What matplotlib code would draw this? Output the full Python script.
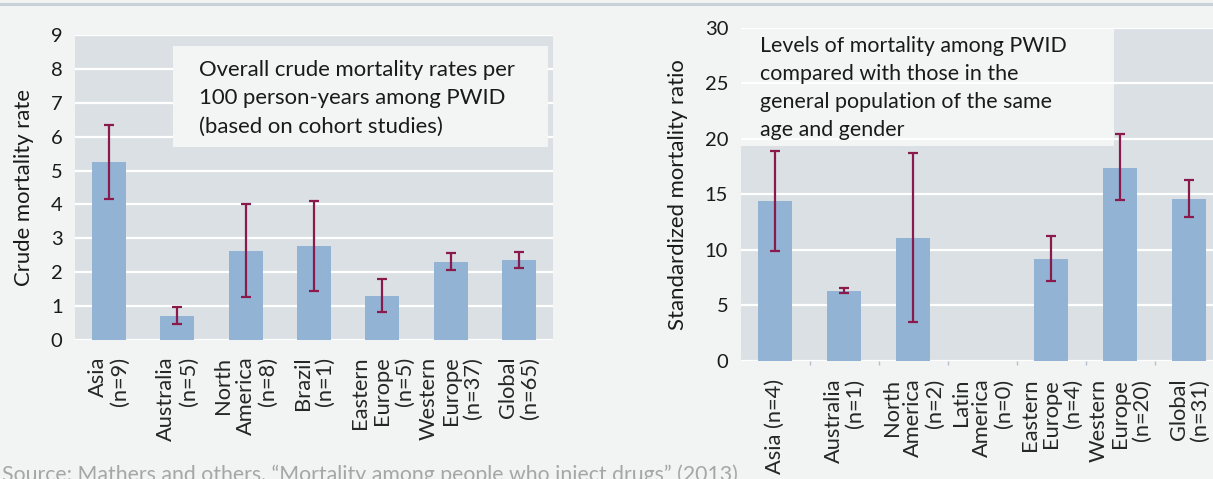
"""
Mortality among people who inject drugs: crude mortality rates and standardized mortality ratios.
"""

import matplotlib as mpl
mpl.use("Agg")
import matplotlib.pyplot as plt
from matplotlib import font_manager
from matplotlib.patches import Rectangle
import numpy as np

# left panel: crude mortality rate per 100 person-years
crude_labels = ["Asia\n(n=9)", "Australia\n(n=5)", "North\nAmerica\n(n=8)", "Brazil\n(n=1)",
                "Eastern\nEurope\n(n=5)", "Western\nEurope\n(n=37)", "Global\n(n=65)"]
crude_rate = [5.24, 0.71, 2.63, 2.76, 1.31, 2.30, 2.35]
crude_low = [4.15, 0.47, 1.26, 1.45, 0.82, 2.06, 2.13]
crude_high = [6.34, 0.96, 4.02, 4.09, 1.81, 2.57, 2.59]

# right panel: standardized mortality ratio (Latin America has no studies)
smr_labels = ["Asia (n=4)", "Australia\n(n=1)", "North\nAmerica\n(n=2)", "Latin\nAmerica\n(n=0)",
              "Eastern\nEurope\n(n=4)", "Western\nEurope\n(n=20)", "Global\n(n=31)"]
smr = [14.4, 6.3, 11.1, np.nan, 9.2, 17.4, 14.6]
smr_low = [9.9, 6.1, 3.5, np.nan, 7.15, 14.5, 12.95]
smr_high = [18.9, 6.55, 18.75, np.nan, 11.25, 20.4, 16.3]

crude_note = ["Overall crude mortality rates per", "100 person-years among PWID",
              "(based on cohort studies)"]
smr_note = ["Levels of mortality among PWID", "compared with those in the",
            "general population of the same", "age and gender"]
source = "Source: Mathers and others, \u201cMortality among people who inject drugs\u201d (2013)"

BG = "#f2f3f3"
PANEL = "#dbe0e4"
BAR = "#92b3d3"
ERR = "#8a1a4c"
TXT = "#1a1a1a"
W, H = 1213, 479


def pick_font():
    names = {f.name for f in font_manager.fontManager.ttflist}
    for name in ["Lato", "Open Sans", "Roboto"]:
        if name in names:
            return name
    return "DejaVu Sans"


def fit(fig, texts, ref, target, dim="w"):
    """Scale the font of texts so that ref measures target pixels."""
    r = fig.canvas.get_renderer()
    bb = ref.get_window_extent(r)
    got = bb.width if dim == "w" else bb.height
    size = ref.get_fontsize() * target / got
    for t in texts:
        t.set_fontsize(size)


def panel(ax, labels, vals, low, high, ymax, step, xmax, label_pad, spacing):
    x = np.arange(len(vals))
    vals = np.asarray(vals, float)
    low = np.asarray(low, float)
    high = np.asarray(high, float)
    ax.set_facecolor(PANEL)
    ax.bar(x, np.nan_to_num(vals), width=0.5, color=BAR, zorder=2)
    ok = ~np.isnan(vals)
    ax.errorbar(x[ok], vals[ok], yerr=[vals[ok] - low[ok], high[ok] - vals[ok]],
                fmt="none", ecolor=ERR, elinewidth=1.6, capsize=3.5, capthick=1.6, zorder=4)
    ax.set_xlim(-0.5, xmax)
    ax.set_ylim(0, ymax)
    ax.set_yticks(np.arange(0, ymax + step, step))
    ax.yaxis.grid(True, color="white", lw=1.6, zorder=1)
    ax.set_axisbelow(True)
    for s in ax.spines.values():
        s.set_visible(False)
    ax.tick_params(axis="y", length=0, pad=9, labelsize=17, labelcolor=TXT)
    ax.set_xticks(x)
    ax.set_xticklabels(labels, rotation=90, va="top", ha="center", multialignment="right",
                       fontsize=16, color="#262626", linespacing=spacing)
    ax.tick_params(axis="x", length=0, pad=label_pad)


def note(fig, lines, x_px, baselines):
    out = []
    for line, y in zip(lines, baselines):
        out.append(fig.text(x_px / W, 1 - y / H, line, ha="left", va="baseline",
                            fontsize=15, color=TXT, zorder=5))
    return out


def main():
    font = pick_font()
    plt.rcParams["font.family"] = [font, "DejaVu Sans"]

    fig = plt.figure(figsize=(W / 100, H / 100), dpi=100, facecolor=BG)

    # thin band across the top of the page
    fig.add_artist(plt.Line2D([0, 1], [1 - 3.5 / H] * 2, color="#c9d1d8", lw=2.2,
                              transform=fig.transFigure))

    ax1 = fig.add_axes([75 / W, (H - 340) / H, 478 / W, 305 / H])
    panel(ax1, crude_labels, crude_rate, crude_low, crude_high, 9, 1, 6.5, 12, 1.15)
    ax1.set_ylabel("Crude mortality rate", fontsize=14.8, color=TXT, labelpad=12)
    ax1.add_patch(Rectangle((0.205, 5.69), 0.785, 2.98, transform=ax1.get_yaxis_transform(),
                            facecolor="#f3f4f4", edgecolor="none", zorder=3))

    ax2 = fig.add_axes([740.7 / W, (H - 360.7) / H, 472.3 / W, 332.7 / H])
    panel(ax2, smr_labels, smr, smr_low, smr_high, 30, 5, 6.345, 13, 1.08)
    ax2.set_ylabel("Standardized mortality ratio", fontsize=15.3, color=TXT, labelpad=12)
    ax2.set_xticks(np.arange(0.5, 6, 1), minor=True)
    ax2.tick_params(axis="x", which="minor", length=3, width=1, color="#b4c0cc")
    ax2.add_patch(Rectangle((0, 19.4), 0.791, 10.6, transform=ax2.get_yaxis_transform(),
                            facecolor="#f3f4f4", edgecolor="none", zorder=0.5))

    left_note = note(fig, crude_note, 199, [76, 104.5, 133])
    right_note = note(fig, smr_note, 760, [52.3, 80, 108, 135.7])
    src = fig.text(2 / W, -2 / H, source, ha="left", va="baseline", fontsize=15.4,
                   color="#a6a6a6")

    # match text sizes to the measured widths of the original
    fig.canvas.draw()
    fit(fig, left_note, left_note[0], 318)
    fit(fig, right_note, right_note[0], 306)
    fit(fig, [src], src, 738)
    xl1 = ax1.get_xticklabels()
    xl2 = ax2.get_xticklabels()
    fit(fig, xl1 + xl2, xl1[1], 85, "h")
    yl = ax1.get_yticklabels() + ax2.get_yticklabels()
    fit(fig, yl, ax2.get_yticklabels()[-1], 23.6)
    fit(fig, [ax1.yaxis.label], ax1.yaxis.label, 197, "h")
    fit(fig, [ax2.yaxis.label], ax2.yaxis.label, 272, "h")

    fig.savefig("out.png", dpi=100, facecolor=BG)


if __name__ == '__main__':
    main()
